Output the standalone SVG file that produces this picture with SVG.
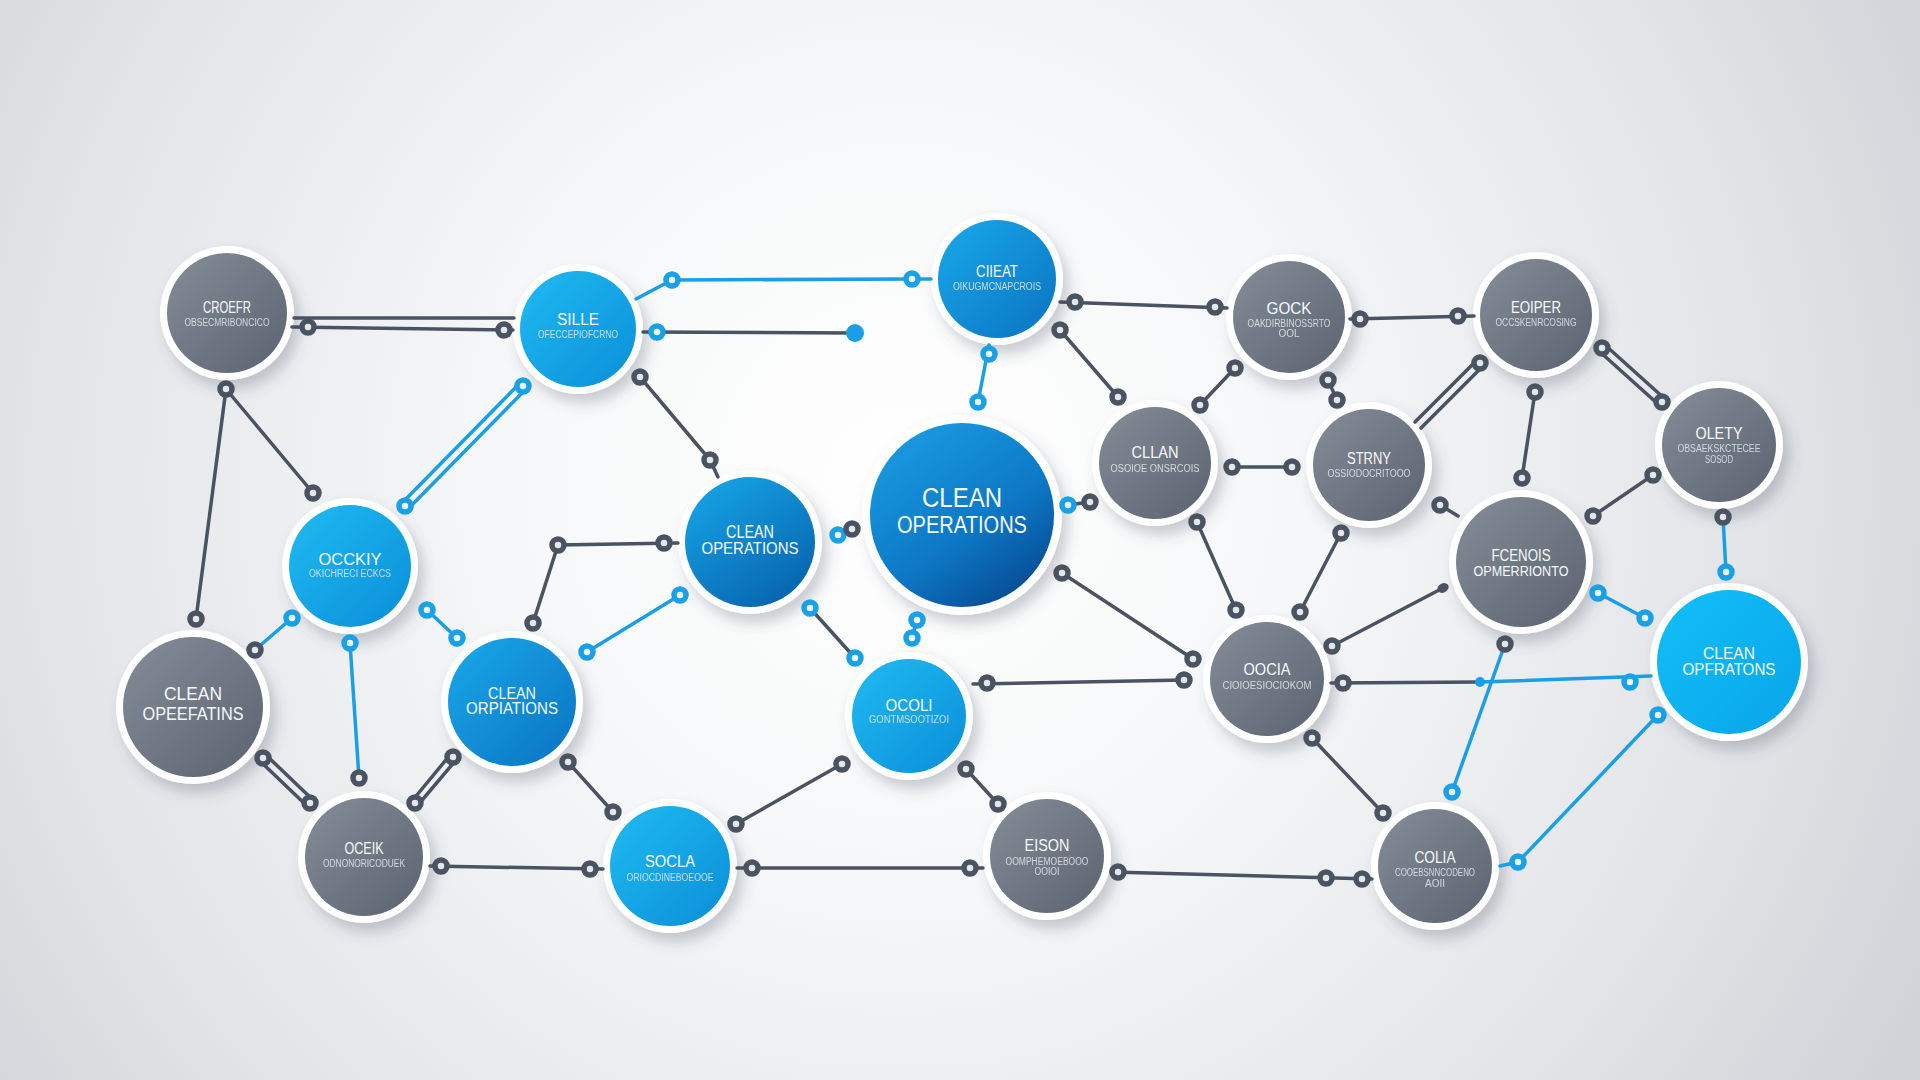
<svg xmlns="http://www.w3.org/2000/svg" xmlns:xlink="http://www.w3.org/1999/xlink" width="1920" height="1080" viewBox="0 0 1920 1080">
<defs>
<radialGradient id="bg" cx="900" cy="480" r="1150" gradientUnits="userSpaceOnUse">
<stop offset="0" stop-color="#ffffff"/>
<stop offset="0.35" stop-color="#f6f7f8"/>
<stop offset="0.75" stop-color="#e2e4e7"/>
<stop offset="1" stop-color="#d0d3d7"/>
</radialGradient>
<linearGradient id="gGray" x1="0" y1="0" x2="1" y2="1">
<stop offset="0" stop-color="#848d98"/>
<stop offset="1" stop-color="#5a636f"/>
</linearGradient>
<linearGradient id="gBlue" x1="0" y1="0" x2="1" y2="1">
<stop offset="0" stop-color="#20bbf2"/>
<stop offset="1" stop-color="#0a8ed8"/>
</linearGradient>
<linearGradient id="gBlueD" x1="0" y1="0" x2="1" y2="1">
<stop offset="0" stop-color="#1aa9ea"/>
<stop offset="1" stop-color="#0a72c2"/>
</linearGradient>
<linearGradient id="gBig" x1="0.1" y1="0" x2="0.8" y2="1">
<stop offset="0" stop-color="#1b9fe3"/>
<stop offset="0.6" stop-color="#0d78c6"/>
<stop offset="1" stop-color="#07488f"/>
</linearGradient>
<linearGradient id="gMid" x1="0.1" y1="0" x2="0.8" y2="1">
<stop offset="0" stop-color="#17a6e8"/>
<stop offset="1" stop-color="#0662ad"/>
</linearGradient>
<linearGradient id="gBright" x1="0" y1="0" x2="1" y2="1">
<stop offset="0" stop-color="#12c0f7"/>
<stop offset="1" stop-color="#08a4ea"/>
</linearGradient>
<filter id="sh" x="-30%" y="-30%" width="170%" height="170%">
<feDropShadow dx="6" dy="9" stdDeviation="7" flood-color="#4c5562" flood-opacity="0.28"/>
</filter>
<circle id="rg" r="6" fill="#e4e7ea" stroke="#4a5361" stroke-width="5.5"/>
<circle id="rb" r="6" fill="#e8f6fd" stroke="#19a0e6" stroke-width="5.5"/>
</defs>
<style>
.ring{fill:#ffffff;filter:url(#sh)}
.t{font-family:"Liberation Sans","DejaVu Sans",sans-serif;fill:#f7f9fb;text-anchor:middle}
.s{font-family:"Liberation Sans","DejaVu Sans",sans-serif;fill:#e2e8ee;opacity:0.85;text-anchor:middle;font-size:10px}
.g{stroke:#4a5361;stroke-width:3.5;fill:none;stroke-linecap:round}
.b{stroke:#1a9ee6;stroke-width:3.5;fill:none;stroke-linecap:round}
</style>
<rect width="1920" height="1080" fill="url(#bg)"/>

<g id="nodes">
<g id="n1"><circle class="ring" cx="227" cy="313" r="67"/><circle cx="227" cy="313" r="60" fill="url(#gGray)"/>
<text class="t" x="227" y="313" font-size="16" textLength="48" lengthAdjust="spacingAndGlyphs">CROEFR</text>
<text class="s" x="227" y="326" textLength="85" lengthAdjust="spacingAndGlyphs">OBSECMRIBONCICO</text></g>

<g id="n2"><circle class="ring" cx="578" cy="329" r="65"/><circle cx="578" cy="329" r="58" fill="url(#gBlue)"/>
<text class="t" x="578" y="325" font-size="16" textLength="42" lengthAdjust="spacingAndGlyphs">SILLE</text>
<text class="s" x="578" y="338" textLength="80" lengthAdjust="spacingAndGlyphs">OFECCEPIOFCRNO</text></g>

<g id="n3"><circle class="ring" cx="997" cy="279" r="66"/><circle cx="997" cy="279" r="59" fill="url(#gBlueD)"/>
<text class="t" x="997" y="277" font-size="16" textLength="42" lengthAdjust="spacingAndGlyphs">CIIEAT</text>
<text class="s" x="997" y="290" textLength="88" lengthAdjust="spacingAndGlyphs">OIKUGMCNAPCROIS</text></g>

<g id="n4"><circle class="ring" cx="1289" cy="317" r="63"/><circle cx="1289" cy="317" r="56" fill="url(#gGray)"/>
<text class="t" x="1289" y="314" font-size="16" textLength="45" lengthAdjust="spacingAndGlyphs">GOCK</text>
<text class="s" x="1289" y="327" textLength="83" lengthAdjust="spacingAndGlyphs">OAKDIRBINOSSRTO</text>
<text class="s" x="1289" y="337">OOL</text></g>

<g id="n5"><circle class="ring" cx="1536" cy="315" r="63"/><circle cx="1536" cy="315" r="56" fill="url(#gGray)"/>
<text class="t" x="1536" y="313" font-size="16" textLength="50" lengthAdjust="spacingAndGlyphs">EOIPER</text>
<text class="s" x="1536" y="326" textLength="81" lengthAdjust="spacingAndGlyphs">OCCSKENRCOSING</text></g>

<g id="n6"><circle class="ring" cx="1719" cy="445" r="64"/><circle cx="1719" cy="445" r="57" fill="url(#gGray)"/>
<text class="t" x="1719" y="439" font-size="16" textLength="47" lengthAdjust="spacingAndGlyphs">OLETY</text>
<text class="s" x="1719" y="452" textLength="83" lengthAdjust="spacingAndGlyphs">OBSAEKSKCTECEE</text>
<text class="s" x="1719" y="463" textLength="28" lengthAdjust="spacingAndGlyphs">SOSOD</text></g>

<g id="n7"><circle class="ring" cx="1155" cy="463" r="63"/><circle cx="1155" cy="463" r="56" fill="url(#gGray)"/>
<text class="t" x="1155" y="458" font-size="16" textLength="47" lengthAdjust="spacingAndGlyphs">CLLAN</text>
<text class="s" x="1155" y="472" textLength="89" lengthAdjust="spacingAndGlyphs">OSOIOE ONSRCOIS</text></g>

<g id="n8"><circle class="ring" cx="1369" cy="465" r="63"/><circle cx="1369" cy="465" r="56" fill="url(#gGray)"/>
<text class="t" x="1369" y="464" font-size="16" textLength="44" lengthAdjust="spacingAndGlyphs">STRNY</text>
<text class="s" x="1369" y="477" textLength="83" lengthAdjust="spacingAndGlyphs">OSSIODOCRITOOO</text></g>

<g id="n9"><circle class="ring" cx="962" cy="515" r="100"/><circle cx="962" cy="515" r="92" fill="url(#gBig)"/>
<text class="t" x="962" y="507" font-size="27" textLength="80" lengthAdjust="spacingAndGlyphs">CLEAN</text>
<text class="t" x="962" y="533" font-size="24" textLength="130" lengthAdjust="spacingAndGlyphs">OPERATIONS</text></g>

<g id="n10"><circle class="ring" cx="750" cy="542" r="72"/><circle cx="750" cy="542" r="65" fill="url(#gMid)"/>
<text class="t" x="750" y="538" font-size="18" textLength="48" lengthAdjust="spacingAndGlyphs">CLEAN</text>
<text class="t" x="750" y="554" font-size="17" textLength="97" lengthAdjust="spacingAndGlyphs">OPERATIONS</text></g>

<g id="n11"><circle class="ring" cx="1521" cy="562" r="72"/><circle cx="1521" cy="562" r="65" fill="url(#gGray)"/>
<text class="t" x="1521" y="561" font-size="16" textLength="59" lengthAdjust="spacingAndGlyphs">FCENOIS</text>
<text class="t" x="1521" y="576" font-size="15" textLength="95" lengthAdjust="spacingAndGlyphs">OPMERRIONTO</text></g>

<g id="n12"><circle class="ring" cx="350" cy="566" r="68"/><circle cx="350" cy="566" r="61" fill="url(#gBlue)"/>
<text class="t" x="350" y="565" font-size="16" textLength="63" lengthAdjust="spacingAndGlyphs">OCCKIY</text>
<text class="s" x="350" y="577" textLength="82" lengthAdjust="spacingAndGlyphs">OKICHRECI ECKCS</text></g>

<g id="n13"><circle class="ring" cx="193" cy="707" r="77"/><circle cx="193" cy="707" r="70" fill="url(#gGray)"/>
<text class="t" x="193" y="700" font-size="18" textLength="58" lengthAdjust="spacingAndGlyphs">CLEAN</text>
<text class="t" x="193" y="720" font-size="18" textLength="101" lengthAdjust="spacingAndGlyphs">OPEEFATINS</text></g>

<g id="n14"><circle class="ring" cx="512" cy="702" r="71"/><circle cx="512" cy="702" r="64" fill="url(#gBlueD)"/>
<text class="t" x="512" y="699" font-size="16" textLength="48" lengthAdjust="spacingAndGlyphs">CLEAN</text>
<text class="t" x="512" y="714" font-size="16" textLength="92" lengthAdjust="spacingAndGlyphs">ORPIATIONS</text></g>

<g id="n15"><circle class="ring" cx="909" cy="716" r="64"/><circle cx="909" cy="716" r="57" fill="url(#gBlue)"/>
<text class="t" x="909" y="711" font-size="16" textLength="47" lengthAdjust="spacingAndGlyphs">OCOLI</text>
<text class="s" x="909" y="723" textLength="80" lengthAdjust="spacingAndGlyphs">GONTMSOOTIZOI</text></g>

<g id="n16"><circle class="ring" cx="1267" cy="679" r="64"/><circle cx="1267" cy="679" r="57" fill="url(#gGray)"/>
<text class="t" x="1267" y="675" font-size="16" textLength="47" lengthAdjust="spacingAndGlyphs">OOCIA</text>
<text class="s" x="1267" y="689" textLength="89" lengthAdjust="spacingAndGlyphs">CIOIOESIOCIOKOM</text></g>

<g id="n17"><circle class="ring" cx="1729" cy="662" r="79"/><circle cx="1729" cy="662" r="72" fill="url(#gBright)"/>
<text class="t" x="1729" y="659" font-size="17" textLength="52" lengthAdjust="spacingAndGlyphs">CLEAN</text>
<text class="t" x="1729" y="675" font-size="16" textLength="93" lengthAdjust="spacingAndGlyphs">OPFRATONS</text></g>

<g id="n18"><circle class="ring" cx="364" cy="857" r="66"/><circle cx="364" cy="857" r="59" fill="url(#gGray)"/>
<text class="t" x="364" y="854" font-size="16" textLength="39" lengthAdjust="spacingAndGlyphs">OCEIK</text>
<text class="s" x="364" y="867" textLength="82" lengthAdjust="spacingAndGlyphs">ODNONORICODUEK</text></g>

<g id="n19"><circle class="ring" cx="670" cy="866" r="67"/><circle cx="670" cy="866" r="60" fill="url(#gBlue)"/>
<text class="t" x="670" y="867" font-size="16" textLength="50" lengthAdjust="spacingAndGlyphs">SOCLA</text>
<text class="s" x="670" y="881" textLength="87" lengthAdjust="spacingAndGlyphs">ORIOCDINEBOEOOE</text></g>

<g id="n20"><circle class="ring" cx="1047" cy="856" r="64"/><circle cx="1047" cy="856" r="57" fill="url(#gGray)"/>
<text class="t" x="1047" y="851" font-size="16" textLength="45" lengthAdjust="spacingAndGlyphs">EISON</text>
<text class="s" x="1047" y="865" textLength="83" lengthAdjust="spacingAndGlyphs">OOMPHEMOEBOOO</text>
<text class="s" x="1047" y="875" textLength="25" lengthAdjust="spacingAndGlyphs">OOIOI</text></g>

<g id="n21"><circle class="ring" cx="1435" cy="866" r="64"/><circle cx="1435" cy="866" r="57" fill="url(#gGray)"/>
<text class="t" x="1435" y="863" font-size="16" textLength="41" lengthAdjust="spacingAndGlyphs">COLIA</text>
<text class="s" x="1435" y="876" textLength="80" lengthAdjust="spacingAndGlyphs">COOEBSNNCODENO</text>
<text class="s" x="1435" y="887">AOII</text></g>
</g>

<g id="connectors">
<line class="g" x1="294" y1="318" x2="514" y2="318"/>
<line class="g" x1="292" y1="327" x2="513" y2="330"/>
<use href="#rg" x="308" y="327"/><use href="#rg" x="504" y="330"/>
<polyline class="b" points="636,299 672,280 912,279 931,279"/>
<use href="#rb" x="672" y="280"/><use href="#rb" x="912" y="279"/>
<line class="g" x1="643" y1="332" x2="855" y2="333"/>
<use href="#rb" x="657" y="332"/><circle cx="855" cy="333" r="9" fill="#1a9ee6"/>
<line class="g" x1="226" y1="389" x2="313" y2="493"/>
<line class="g" x1="226" y1="389" x2="196" y2="619"/>
<use href="#rg" x="226" y="389"/><use href="#rg" x="313" y="493"/><use href="#rg" x="196" y="619"/>
<line class="b" x1="526" y1="389" x2="408" y2="509"/>
<line class="b" x1="520" y1="383" x2="402" y2="503"/>
<use href="#rb" x="523" y="386"/><use href="#rb" x="405" y="506"/>
<polyline class="g" points="640,377 710,460 718,477"/>
<use href="#rg" x="640" y="377"/><use href="#rg" x="710" y="460"/>
<line class="b" x1="989" y1="345" x2="978" y2="402"/>
<use href="#rb" x="989" y="354"/><use href="#rb" x="978" y="402"/>
<line class="g" x1="1060" y1="302" x2="1227" y2="308"/>
<use href="#rg" x="1075" y="302"/><use href="#rg" x="1215" y="307"/>
<line class="g" x1="1060" y1="330" x2="1118" y2="397"/>
<use href="#rg" x="1060" y="330"/><use href="#rg" x="1118" y="397"/>
<line class="g" x1="1235" y1="368" x2="1200" y2="405"/>
<use href="#rg" x="1235" y="368"/><use href="#rg" x="1200" y="405"/>
<line class="g" x1="1328" y1="380" x2="1337" y2="400"/>
<use href="#rg" x="1328" y="380"/><use href="#rg" x="1337" y="400"/>
<line class="g" x1="1350" y1="319" x2="1474" y2="316"/>
<use href="#rg" x="1360" y="319"/><use href="#rg" x="1458" y="316"/>
<line class="g" x1="1483" y1="366" x2="1421" y2="428"/>
<line class="g" x1="1477" y1="360" x2="1415" y2="422"/>
<use href="#rg" x="1480" y="363"/>
<line class="g" x1="1535" y1="392" x2="1522" y2="478"/>
<use href="#rg" x="1535" y="392"/><use href="#rg" x="1522" y="478"/>
<line class="g" x1="1599" y1="351" x2="1659" y2="405"/>
<line class="g" x1="1605" y1="345" x2="1665" y2="399"/>
<use href="#rg" x="1602" y="348"/><use href="#rg" x="1662" y="402"/>
<line class="g" x1="1653" y1="475" x2="1593" y2="516"/>
<use href="#rg" x="1653" y="475"/><use href="#rg" x="1593" y="516"/>
<line class="b" x1="1723" y1="517" x2="1726" y2="572"/>
<use href="#rg" x="1723" y="517"/><use href="#rb" x="1726" y="572"/>
<line class="g" x1="1440" y1="505" x2="1458" y2="516"/>
<use href="#rg" x="1440" y="505"/>
<line class="g" x1="1341" y1="533" x2="1300" y2="612"/>
<use href="#rg" x="1341" y="533"/><use href="#rg" x="1300" y="612"/>
<line class="g" x1="1197" y1="522" x2="1236" y2="610"/>
<use href="#rg" x="1197" y="522"/><use href="#rg" x="1236" y="610"/>
<line class="g" x1="1232" y1="467" x2="1292" y2="467"/>
<use href="#rg" x="1232" y="467"/><use href="#rg" x="1292" y="467"/>
<line class="g" x1="1068" y1="505" x2="1090" y2="502"/>
<use href="#rb" x="1068" y="505"/><use href="#rg" x="1090" y="502"/>
<line class="g" x1="1062" y1="573" x2="1193" y2="659"/>
<use href="#rg" x="1062" y="573"/><use href="#rg" x="1193" y="659"/>
<line class="g" x1="973" y1="684" x2="1184" y2="680"/>
<use href="#rg" x="987" y="683"/><use href="#rg" x="1184" y="680"/>
<line class="g" x1="1331" y1="683" x2="1480" y2="682"/>
<line class="b" x1="1480" y1="682" x2="1651" y2="676"/>
<use href="#rg" x="1343" y="683"/><circle cx="1480" cy="682" r="5" fill="#1a9ee6"/><use href="#rb" x="1630" y="682"/>
<line class="g" x1="1332" y1="646" x2="1443" y2="588"/>
<use href="#rg" x="1332" y="646"/><ellipse cx="1443" cy="588" rx="6" ry="4.5" transform="rotate(-28 1443 588)" fill="#4a5361"/>
<line class="b" x1="1505" y1="644" x2="1452" y2="792"/>
<use href="#rg" x="1505" y="644"/><use href="#rb" x="1452" y="792"/>
<line class="b" x1="1598" y1="593" x2="1645" y2="618"/>
<use href="#rb" x="1598" y="593"/><use href="#rb" x="1645" y="618"/>
<line class="b" x1="1658" y1="715" x2="1518" y2="862"/>
<line class="b" x1="1518" y1="862" x2="1500" y2="866"/>
<use href="#rb" x="1658" y="715"/><use href="#rb" x="1518" y="862"/>
<line class="g" x1="1312" y1="738" x2="1383" y2="813"/>
<use href="#rg" x="1312" y="738"/><use href="#rg" x="1383" y="813"/>
<line class="g" x1="1111" y1="872" x2="1372" y2="879"/>
<use href="#rg" x="1118" y="872"/><use href="#rg" x="1326" y="878"/><use href="#rg" x="1362" y="879"/>
<line class="g" x1="737" y1="868" x2="983" y2="868"/>
<use href="#rg" x="752" y="868"/><use href="#rg" x="970" y="868"/>
<line class="g" x1="430" y1="866" x2="603" y2="869"/>
<use href="#rg" x="441" y="866"/><use href="#rg" x="590" y="869"/>
<line class="g" x1="736" y1="824" x2="842" y2="764"/>
<use href="#rg" x="736" y="824"/><use href="#rg" x="842" y="764"/>
<line class="g" x1="966" y1="769" x2="998" y2="804"/>
<use href="#rg" x="966" y="769"/><use href="#rg" x="998" y="804"/>
<line class="g" x1="810" y1="608" x2="855" y2="658"/>
<use href="#rb" x="810" y="608"/><use href="#rb" x="855" y="658"/>
<line class="b" x1="917" y1="620" x2="912" y2="638"/>
<use href="#rb" x="917" y="620"/><use href="#rb" x="912" y="638"/>
<use href="#rb" x="838" y="535"/><use href="#rg" x="852" y="529"/>
<polyline class="g" points="678,543 558,545 533,623"/>
<use href="#rg" x="664" y="543"/><use href="#rg" x="558" y="545"/><use href="#rg" x="533" y="623"/>
<line class="b" x1="680" y1="595" x2="587" y2="652"/>
<use href="#rb" x="680" y="595"/><use href="#rb" x="587" y="652"/>
<line class="b" x1="292" y1="618" x2="255" y2="650"/>
<use href="#rb" x="292" y="618"/><use href="#rg" x="255" y="650"/>
<line class="b" x1="427" y1="610" x2="457" y2="638"/>
<use href="#rb" x="427" y="610"/><use href="#rb" x="457" y="638"/>
<line class="b" x1="350" y1="643" x2="359" y2="778"/>
<use href="#rb" x="350" y="643"/><use href="#rg" x="359" y="778"/>
<line class="g" x1="260" y1="761" x2="307" y2="806"/>
<line class="g" x1="266" y1="755" x2="313" y2="800"/>
<use href="#rg" x="263" y="758"/><use href="#rg" x="310" y="803"/>
<line class="g" x1="456" y1="760" x2="418" y2="805"/>
<line class="g" x1="450" y1="755" x2="412" y2="801"/>
<use href="#rg" x="453" y="757"/><use href="#rg" x="415" y="803"/>
<line class="g" x1="568" y1="762" x2="613" y2="812"/>
<use href="#rg" x="568" y="762"/><use href="#rg" x="613" y="812"/>
</g>
</svg>
